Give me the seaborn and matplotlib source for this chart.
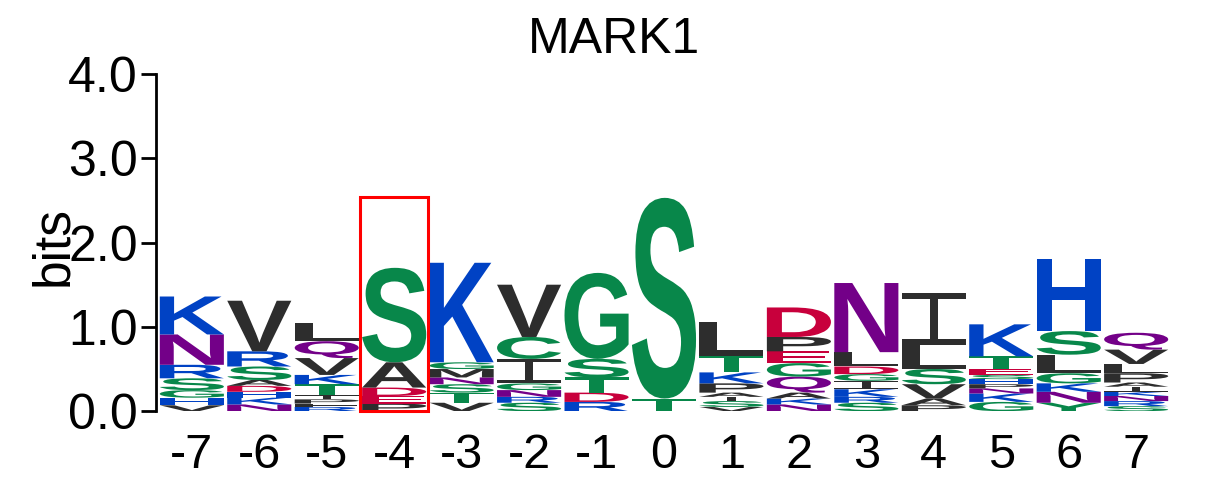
import seaborn as sns
import matplotlib.pyplot as plt
from matplotlib.textpath import TextPath
from matplotlib.font_manager import FontProperties
from matplotlib.patches import PathPatch, Rectangle
from matplotlib.transforms import Affine2D
from matplotlib.path import Path

# logo data, letters listed bottom -> top for each position
positions = [-7, -6, -5, -4, -3, -2, -1, 0, 1, 2, 3, 4, 5, 6, 7]
letters = [
    "VHGSRNK",
    "NKHDASRV",
    "RFPITKVQL",
    "PEDAS",
    "VTSNMGK",
    "SRNGICV",
    "RDTSG",
    "TS",
    "VSIAPKTL",
    "NKAQGEPD",
    "SRKIGDLN",
    "PAVSLI",
    "GKNPHSETK",
    "YNKGLSH",
    "SRNKIAPLVQ",
]
heights = [
    [0.07, 0.09, 0.09, 0.14, 0.16, 0.36, 0.45],
    [0.08, 0.08, 0.07, 0.07, 0.07, 0.16, 0.18, 0.60],
    [0.05, 0.04, 0.05, 0.05, 0.13, 0.11, 0.20, 0.20, 0.22],
    [0.09, 0.09, 0.10, 0.30, 1.12],
    [0.10, 0.12, 0.10, 0.08, 0.10, 0.08, 1.18],
    [0.10, 0.07, 0.08, 0.08, 0.29, 0.26, 0.62],
    [0.11, 0.11, 0.18, 0.22, 1.02],
    [0.15, 2.38],
    [0.05, 0.07, 0.05, 0.05, 0.11, 0.13, 0.20, 0.40],
    [0.08, 0.07, 0.07, 0.19, 0.16, 0.14, 0.17, 0.35],
    [0.10, 0.07, 0.09, 0.10, 0.08, 0.09, 0.17, 0.82],
    [0.07, 0.08, 0.17, 0.18, 0.28, 0.62],
    [0.11, 0.10, 0.06, 0.05, 0.06, 0.05, 0.07, 0.15, 0.38],
    [0.10, 0.13, 0.10, 0.12, 0.22, 0.28, 0.86],
    [0.06, 0.06, 0.06, 0.05, 0.06, 0.05, 0.11, 0.11, 0.17, 0.20],
]
highlight_pos = -4
highlight_top = 2.54

colors = {}
for aa in "GSTYC":
    colors[aa] = "#08874a"
for aa in "NQ":
    colors[aa] = "#730088"
for aa in "KRH":
    colors[aa] = "#0042c4"
for aa in "DE":
    colors[aa] = "#c8003c"
for aa in "AVLIPWFM":
    colors[aa] = "#2d2d2d"

sns.set_style("ticks")
plt.rcParams["font.family"] = ["Liberation Sans", "DejaVu Sans"]
plt.rcParams["text.color"] = "black"
plt.rcParams["xtick.color"] = "black"
plt.rcParams["ytick.color"] = "black"
plt.rcParams["axes.labelcolor"] = "black"

fig = plt.figure(figsize=(12.29, 4.96), dpi=100)
ax = fig.add_axes([0.127, 0.171, 0.826, 0.68])

fp = FontProperties(family="Liberation Sans", weight="bold")
col_w = 0.95

# weblogo draws I with serifs, a plain bar would stretch into a block
bar, stem = 0.12, 0.13
s0, s1 = 0.5 - stem / 2, 0.5 + stem / 2
i_path = Path([(0, 0), (1, 0), (1, bar), (s1, bar), (s1, 1 - bar), (1, 1 - bar),
               (1, 1), (0, 1), (0, 1 - bar), (s0, 1 - bar), (s0, bar), (0, bar), (0, 0)],
              closed=True)

for x, lets, hs in zip(positions, letters, heights):
    y = 0.0
    for ch, h in zip(lets, hs):
        if ch == "I":
            tp = i_path
        else:
            tp = TextPath((0, 0), ch, size=1, prop=fp)
        bb = tp.get_extents()
        tr = (Affine2D().translate(-bb.x0, -bb.y0)
              .scale(col_w / bb.width, h / bb.height)
              .translate(x - col_w / 2, y))
        ax.add_patch(PathPatch(tr.transform_path(tp), fc=colors[ch], ec="none", lw=0))
        y += h

ax.add_patch(Rectangle((highlight_pos - 0.5, 0), 1.0, highlight_top,
                       fill=False, ec="red", lw=2.2, clip_on=False, zorder=5))

ax.set_xlim(-7.53, 7.52)
ax.set_ylim(0, 4)
ax.set_xticks(positions)
ax.set_xticklabels([str(p) for p in positions])
ax.set_yticks([0, 1, 2, 3, 4])
ax.set_yticklabels(["0.0", "1.0", "2.0", "3.0", "4.0"])
ax.tick_params(axis="x", length=0, pad=16, labelsize=35)
ax.tick_params(axis="y", length=11, width=2, pad=2, labelsize=36)
sns.despine(ax=ax, bottom=True)
ax.spines["left"].set_linewidth(2)
ax.spines["left"].set_color("black")
ax.set_ylabel("bits", fontsize=37)
ax.yaxis.set_label_coords(-0.077, 0.49)
fig.text(0.5, 0.965, "MARK1", fontsize=36, ha="center", va="top")

fig.savefig("out.png", dpi=100)
